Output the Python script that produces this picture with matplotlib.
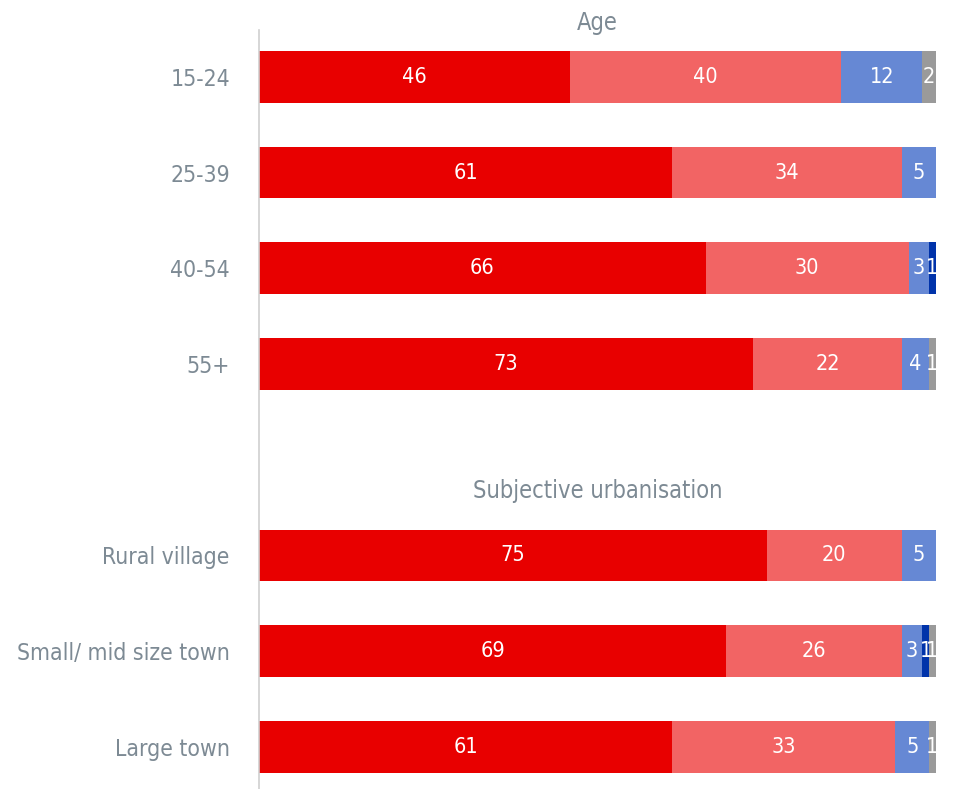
import numpy as np
import matplotlib
matplotlib.use("Agg")
from matplotlib import pyplot as plt

plt.rcParams['font.family'] = ['DejaVu Sans']
plt.rcParams['font.stretch'] = 'condensed'

# rows, top to bottom; a blank slot separates the two groups
labels = ["15-24", "25-39", "40-54", "55+", "Rural village", "Small/ mid size town", "Large town"]
positions = [0, 1, 2, 3, 5, 6, 7]

s1 = [46, 61, 66, 73, 75, 69, 61]
s2 = [40, 34, 30, 22, 20, 26, 33]
s3 = [12, 5, 3, 4, 5, 3, 5]
s4 = [0, 0, 1, 0, 0, 1, 0]
s5 = [2, 0, 0, 1, 0, 1, 1]

groups = ["Age", "Subjective urbanisation"]
group_pos = [-0.56, 4.33]

colors = ["#E80000", "#F26464", "#6688D4", "#0033AA", "#9A9A9A"]
txt = "#7D8A94"

fig = plt.figure(figsize=(9.54, 7.89), dpi=100)
ax = fig.add_axes([0.2715, 0.0, 0.7095, 0.962])

left = np.zeros(len(labels))
for vals, c in zip([s1, s2, s3, s4, s5], colors):
    vals = np.array(vals, dtype=float)
    ax.barh(positions, vals, left=left, height=0.54, color=c, edgecolor="none")
    for p, l, v in zip(positions, left, vals):
        if v > 0:
            ax.text(l + v / 2, p, f"{int(v)}", ha="center", va="center",
                    color="white", fontsize=15.5)
    left += vals

ax.set_xlim(0, 100)
ax.set_ylim(7.44, -0.49)
ax.set_yticks(positions)
ax.set_yticklabels(labels, fontsize=16.5, color=txt)
ax.tick_params(axis="y", length=0, pad=21)
ax.set_xticks([])
for sp in ["top", "right", "bottom"]:
    ax.spines[sp].set_visible(False)
ax.spines["left"].set_color("#D0D0D0")
ax.spines["left"].set_linewidth(1.2)

for g, gp in zip(groups, group_pos):
    ax.text(50, gp, g, ha="center", va="center", fontsize=17, color=txt, clip_on=False)

fig.savefig("out.png", dpi=100)
